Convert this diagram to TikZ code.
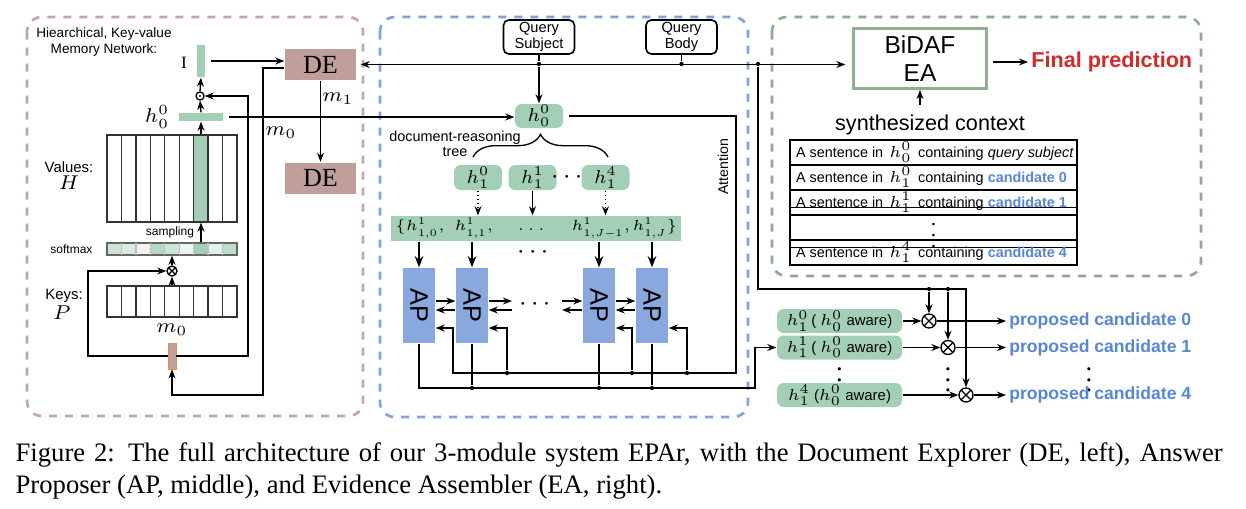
\RequirePackage{fix-cm}
\documentclass[tikz,border=0pt]{standalone}
\usepackage[no-math]{fontspec}
\setmainfont{Liberation Serif}
\setsansfont{Liberation Sans}
\usepackage{amsmath,amssymb}
\usepackage{graphicx}
\usetikzlibrary{arrows.meta,decorations.pathreplacing}
\definecolor{epgreen}{RGB}{163,207,183}
\definecolor{epbrown}{RGB}{192,158,153}
\definecolor{epblue}{RGB}{137,168,222}
\definecolor{epcand}{RGB}{86,135,214}
\definecolor{epred}{RGB}{212,42,38}
\definecolor{deframe}{RGB}{200,165,158}
\definecolor{apframe}{RGB}{128,163,224}
\definecolor{eaframe}{RGB}{142,172,142}
\definecolor{eaborder}{RGB}{143,177,143}
\newlength{\upx}\setlength{\upx}{0.375pt}
\newcommand{\sfs}[2]{\fontsize{#1}{#2}\selectfont\sffamily}
\newcommand{\mh}[1]{{\fontsize{6}{6}\selectfont$#1$}}
\newcommand{\cand}[1]{{\color{epcand}\bfseries #1}}
\newcommand{\ctxrow}[1]{\makebox[275\upx][l]{#1}}

\begin{document}
\begin{tikzpicture}[x=0.375pt,y=-0.375pt,>={Stealth[length=3.4pt,width=2.6pt]},line width=0.5pt,
    module/.style={dash pattern=on 3pt off 3pt,line width=1pt,rounded corners=5.5pt},
    greenbar/.style={fill=epgreen,inner sep=0pt},
    hbox/.style={fill=epgreen,rounded corners=2.5pt,inner sep=0pt,minimum width=48\upx,minimum height=25\upx,font=\fontsize{7}{7}\selectfont},
    debox/.style={fill=epbrown,minimum width=71\upx,minimum height=31\upx,inner sep=0pt,font=\fontsize{9.8}{10}\selectfont},
    apbox/.style={fill=epblue,minimum width=32\upx,minimum height=75\upx,inner sep=0pt,font=\sfs{9.5}{10}},
    qbox/.style={draw,rounded corners=2pt,line width=0.6pt,minimum width=71\upx,minimum height=34\upx,inner sep=0pt,align=center,font=\sfs{5.5}{6.2}},
    memgrid/.style={draw=black!80,minimum width=130\upx,inner sep=0pt},
    multc/.style={draw,circle,inner sep=0pt,minimum size=#1\upx,path picture={\draw (path picture bounding box.north west) -- (path picture bounding box.south east) (path picture bounding box.north east) -- (path picture bounding box.south west);}},
    dotc/.style={draw,circle,inner sep=0pt,minimum size=8\upx,path picture={\fill (path picture bounding box.center) circle (0.45pt);}},
    tabrow/.style={draw,line width=0.6pt,minimum width=287\upx,minimum height=25\upx,inner sep=0pt,font=\sfs{5.4}{6.2}},
    awbox/.style={fill=epgreen,rounded corners=2.5pt,inner sep=0pt,minimum width=125\upx,minimum height=24\upx,font=\sfs{5.6}{6.4}},
    propc/.style={anchor=west,inner sep=1pt,font=\sfs{6.6}{7.5}\bfseries,text=epcand},
    rowent/.style={font=\fontsize{5.5}{6}\selectfont},
    jdot/.style={circle,fill,inner sep=0pt,minimum size=1.6pt},
    mathlab/.style={font=\fontsize{7.5}{8}\selectfont}]
\useasboundingbox (0,0) rectangle (1246,508);

% Document Explorer
\draw[deframe,module] (27,17) rectangle (363,416);
\node[font=\sfs{5.1}{5.7},align=center] (memtitle) at (104,42) {Hiearchical, Key-value\\Memory Network:};
\node[greenbar,minimum width=8\upx,minimum height=32\upx] (Ibar) at (201,61) {};
\node[font=\fontsize{6.5}{7}\selectfont] (Ilab) at (184,63) {I};
\node[dotc] (odot) at (200,96) {};
\node[greenbar,minimum width=44\upx,minimum height=8\upx] (hbar) at (201,117) {};
\node[mathlab] (hlab) at (157,117) {$h_0^0$};
\fill[epgreen] (193.7,135) rectangle (208.1,222);
\node[memgrid,minimum height=87\upx] (values) at (172,178.5) {};
\foreach \i in {1,...,8} \draw[black!80] (107+14.44*\i,135) -- ++(0,87);
\foreach \sc [count=\i from 0] in {epgreen!55,epgreen!40,black!5,epgreen!80,epgreen!55,epgreen!20,epgreen!100,epgreen!30,epgreen!70}
  \fill[\sc] (107+14.44*\i,243) rectangle ++(14.44,12);
\node[memgrid,draw=black!60,minimum height=12\upx] (softmax) at (172,249) {};
\foreach \i in {1,...,8} \draw[black!25] (107+14.44*\i,243) -- ++(0,12);
\node[font=\sfs{4.5}{5},anchor=east] (smlab) at (102,249) {softmax};
\node[font=\sfs{4.5}{5}] (samp) at (170,232) {sampling};
\node[multc=10] (oxL) at (172,271) {};
\node[memgrid,minimum height=31\upx] (keys) at (172,301.5) {};
\foreach \i in {1,...,8} \draw[black!80] (107+14.44*\i,286) -- ++(0,31);
\node[font=\sfs{5.6}{6.4}] (vallab) at (69,167) {Values:};
\node[mathlab] (Hlab) at (69,183) {$H$};
\node[font=\sfs{5.6}{6.4}] (keylab) at (64,296) {Keys:};
\node[mathlab] (Plab) at (62,313) {$P$};
\node[mathlab] (mlab) at (172,330) {$m_0$};
\node[fill=epbrown,draw=orange!45!epbrown,line width=0.3pt,minimum width=8\upx,minimum height=26\upx,inner sep=0pt] (mbar) at (172,356) {};
\node[debox] (DEa) at (320.5,64.5) {DE};
\node[debox] (DEb) at (320.5,178) {DE};
\node[mathlab] (mzero) at (281,133) {$m_0$};
\node[mathlab] (mone) at (338,99) {$m_1$};

% Answer Proposer
\draw[apframe,module] (380,17) rectangle (748,417);
\node[qbox] (qs) at (539,37) {Query\\Subject};
\node[qbox] (qb) at (681.5,37) {Query\\Body};
\node[jdot] (jqs) at (539,64) {};
\node[jdot] (jqb) at (681.5,64) {};
\node[jdot] (jn) at (758,64) {};
\node[hbox,minimum height=24\upx] (h00) at (539,116) {$h_0^0$};
\draw[decorate,decoration={brace,amplitude=8.5pt}] (473,157) -- (608,157);
\node[font=\sfs{5.4}{5.7},align=center] (treelab) at (455,144) {document-reasoning\\tree};
\node[hbox] (h10) at (478,177.5) {$h_1^0$};
\node[hbox] (h11) at (532.5,177.5) {$h_1^1$};
\node (hdots) at (569,178) {$\cdots$};
\node[hbox] (h14) at (605.5,177.5) {$h_1^4$};
\node[fill=epgreen,minimum width=290\upx,minimum height=25\upx,inner sep=0pt] (hrow) at (536,228.5) {};
\node[rowent] (r0) at (420,228.5) {$\{h^1_{1,0},$};
\node[rowent] (r1) at (474,228.5) {$h^1_{1,1},$};
\node[rowent] (rd) at (533,230) {$\dots$};
\node[rowent] (r2) at (601,228.5) {$h^1_{1,J-1},$};
\node[rowent] (r3) at (655,228.5) {$h^1_{1,J}\}$};
\node (rowdots) at (535,253) {$\cdots$};
\foreach \n/\x in {AP0/419,AP1/472,AP2/599,AP3/652}
  \node[apbox] (\n) at (\x,305.5) {\rotatebox{-90}{AP}};
\coordinate (gapl) at (512,305.5); \coordinate (gapr) at (562,305.5);
\node (apdots) at (537,305) {$\cdots$};
\node[rotate=90,font=\sfs{5.3}{6}] (attn) at (723,167) {Attention};

% Evidence Assembler
\draw[eaframe,module] (772,17) rectangle (1201,276);
\node[draw=eaborder,line width=1.1pt,minimum width=133\upx,minimum height=60\upx,inner sep=0pt,align=center,font=\sfs{9.2}{10.5}] (EA) at (920,58.5) {BiDAF\\EA};
\node[anchor=west,inner sep=1pt,text=epred,font=\sfs{8.1}{9}\bfseries] (final) at (1028,62) {Final prediction};
\node[font=\sfs{8.1}{9}] (synth) at (930,125) {synthesized context};
\node[tabrow] (c0) at (933.5,152.5) {\ctxrow{A sentence in \,\mh{h_0^0}\, containing \textit{query subject}}};
\node[tabrow] (c1) at (933.5,177.5) {\ctxrow{A sentence in \,\mh{h_1^0}\, containing \cand{candidate 0}}};
\node[tabrow] (c2) at (933.5,202.5) {\ctxrow{A sentence in \,\mh{h_1^1}\, containing \cand{candidate 1}}};
\node[tabrow,font=\fontsize{8}{8}\selectfont] (c3) at (933.5,227.5) {$\vdots$};
\node[tabrow] (c4) at (933.5,252.5) {\ctxrow{A sentence in \,\mh{h_1^4}\, containing \cand{candidate 4}}};
\node[awbox] (aw0) at (839.5,321) {\mh{h_1^0}\,( \mh{h_0^0} aware)};
\node[awbox] (aw1) at (839.5,347.5) {\mh{h_1^1}\,( \mh{h_0^0} aware)};
\node (awdots) at (839.5,372) {$\vdots$};
\node[awbox] (aw4) at (839.5,395) {\mh{h_1^4} (\mh{h_0^0} aware)};
\node[multc=14] (ox0) at (929,321) {};
\node[multc=14] (ox1) at (948,347.5) {};
\node (oxdots) at (948,372) {$\vdots$};
\node[multc=14] (ox4) at (966,395) {};
\node[propc] (pc0) at (1006,321) {proposed candidate 0};
\node[propc] (pc1) at (1006,347.5) {proposed candidate 1};
\node (pcdots) at (1089,372) {$\vdots$};
\node[propc] (pc4) at (1006,395) {proposed candidate 4};

% connectors
\draw[->] (values.north -| hbar) -- (hbar.south);
\draw[->] (hbar.north) -- (odot.south);
\draw[->] (odot.north) -- (Ibar.south);
\draw[->,shorten <=2pt] (Ibar.east) -- (Ibar.east -| DEa.west);
\draw[->] ([yshift=-3.5\upx]DEa.west) -| (263,395) -| (mbar.south);
\draw[->] (mbar.west) -| (88,271) -- (oxL.west);
\draw[->] (mbar.east) -| (248,96) -- (odot.east);
\draw[->] (keys.north -| oxL) -- (oxL.south);
\draw[->] (oxL.north) -- (oxL.north |- softmax.south);
\draw[->] (softmax.north -| hbar) -- (values.south -| hbar);
\draw[->] (DEa.south) -- (DEb.north);
\draw[<->,shorten <=1.5pt,shorten >=2.5pt] (DEa.east) -- (DEa.east -| EA.west);
\draw (qs) -- (jqs); \draw (qb) -- (jqb);
\draw[->] (jqs) -- (h00);
\draw[->,shorten <=2pt] (hbar.east) -- (hbar.east -| h00.west);
\draw[->,densely dotted] (h10) -- (h10 |- hrow.north);
\draw[->] (h11) -- (h11 |- hrow.north);
\draw[->,densely dotted] (h14) -- (h14 |- hrow.north);
\foreach \n in {AP0,AP1,AP2,AP3}
  \draw[-{Stealth[length=4.2pt,width=3.2pt]},line width=0.8pt] (\n |- hrow.south) -- (\n.north);
\draw[->] ([yshift=4.5\upx]AP0.east) -- ([yshift=4.5\upx]AP1.west);
\draw[<-] ([yshift=-4.5\upx]AP0.east) -- ([yshift=-4.5\upx]AP1.west);
\draw[->] ([yshift=4.5\upx]AP1.east) -- ([yshift=4.5\upx]gapl);
\draw[<-] ([yshift=-4.5\upx]AP1.east) -- ([yshift=-4.5\upx]gapl);
\draw[->] ([yshift=4.5\upx]gapr) -- ([yshift=4.5\upx]AP2.west);
\draw[<-] ([yshift=-4.5\upx]gapr) -- ([yshift=-4.5\upx]AP2.west);
\draw[->] ([yshift=4.5\upx]AP2.east) -- ([yshift=4.5\upx]AP3.west);
\draw[<-] ([yshift=-4.5\upx]AP2.east) -- ([yshift=-4.5\upx]AP3.west);
\coordinate (attR) at (736,373); \coordinate (attL) at (453,373);
\draw[->,shorten <=2pt] (h00.east) -| (attR) -- (attL) |- ([yshift=-22.5\upx]AP0.east);
\foreach \n/\x in {AP1/507,AP2/632,AP3/687}{
  \node[jdot] (t\n) at (\x,373) {};
  \draw[->] (t\n) |- ([yshift=-22.5\upx]\n.east);}
\coordinate (outR) at (755,388);
\draw[->] (AP0.south) |- (outR) |- (aw1.west);
\foreach \n in {AP1,AP2,AP3}{
  \node[jdot] (o\n) at (\n.south |- outR) {};
  \draw (\n.south) -- (o\n);}
\coordinate (busR) at (966,289);
\draw[->] (jn) |- (busR) -- (ox4.north);
\node[jdot] (b0) at (929,289) {}; \node[jdot] (b1) at (948,289) {};
\draw[->] (b0) -- (ox0.north); \draw[->] (b1) -- (ox1.north);
\draw[->,shorten <=2pt] (EA.east |- final.west) -- (final.west);
\draw[->] (synth.north -| EA.south) -- (EA.south);
\foreach \k in {0,1,4}{
  \draw[->] (aw\k) -- (ox\k); \draw[->] (ox\k) -- (pc\k.west);}

% caption
\node[anchor=base west,inner sep=0pt,font=\fontsize{10}{12}\selectfont] (cap1) at (15,461) {\makebox[1207\upx][s]{Figure 2: The full architecture of our 3-module system EPAr, with the Document Explorer (DE, left), Answer}};
\node[anchor=base west,inner sep=0pt,font=\fontsize{10}{12}\selectfont] (cap2) at (15,493) {Proposer (AP, middle), and Evidence Assembler (EA, right).};
\end{tikzpicture}
\end{document}
